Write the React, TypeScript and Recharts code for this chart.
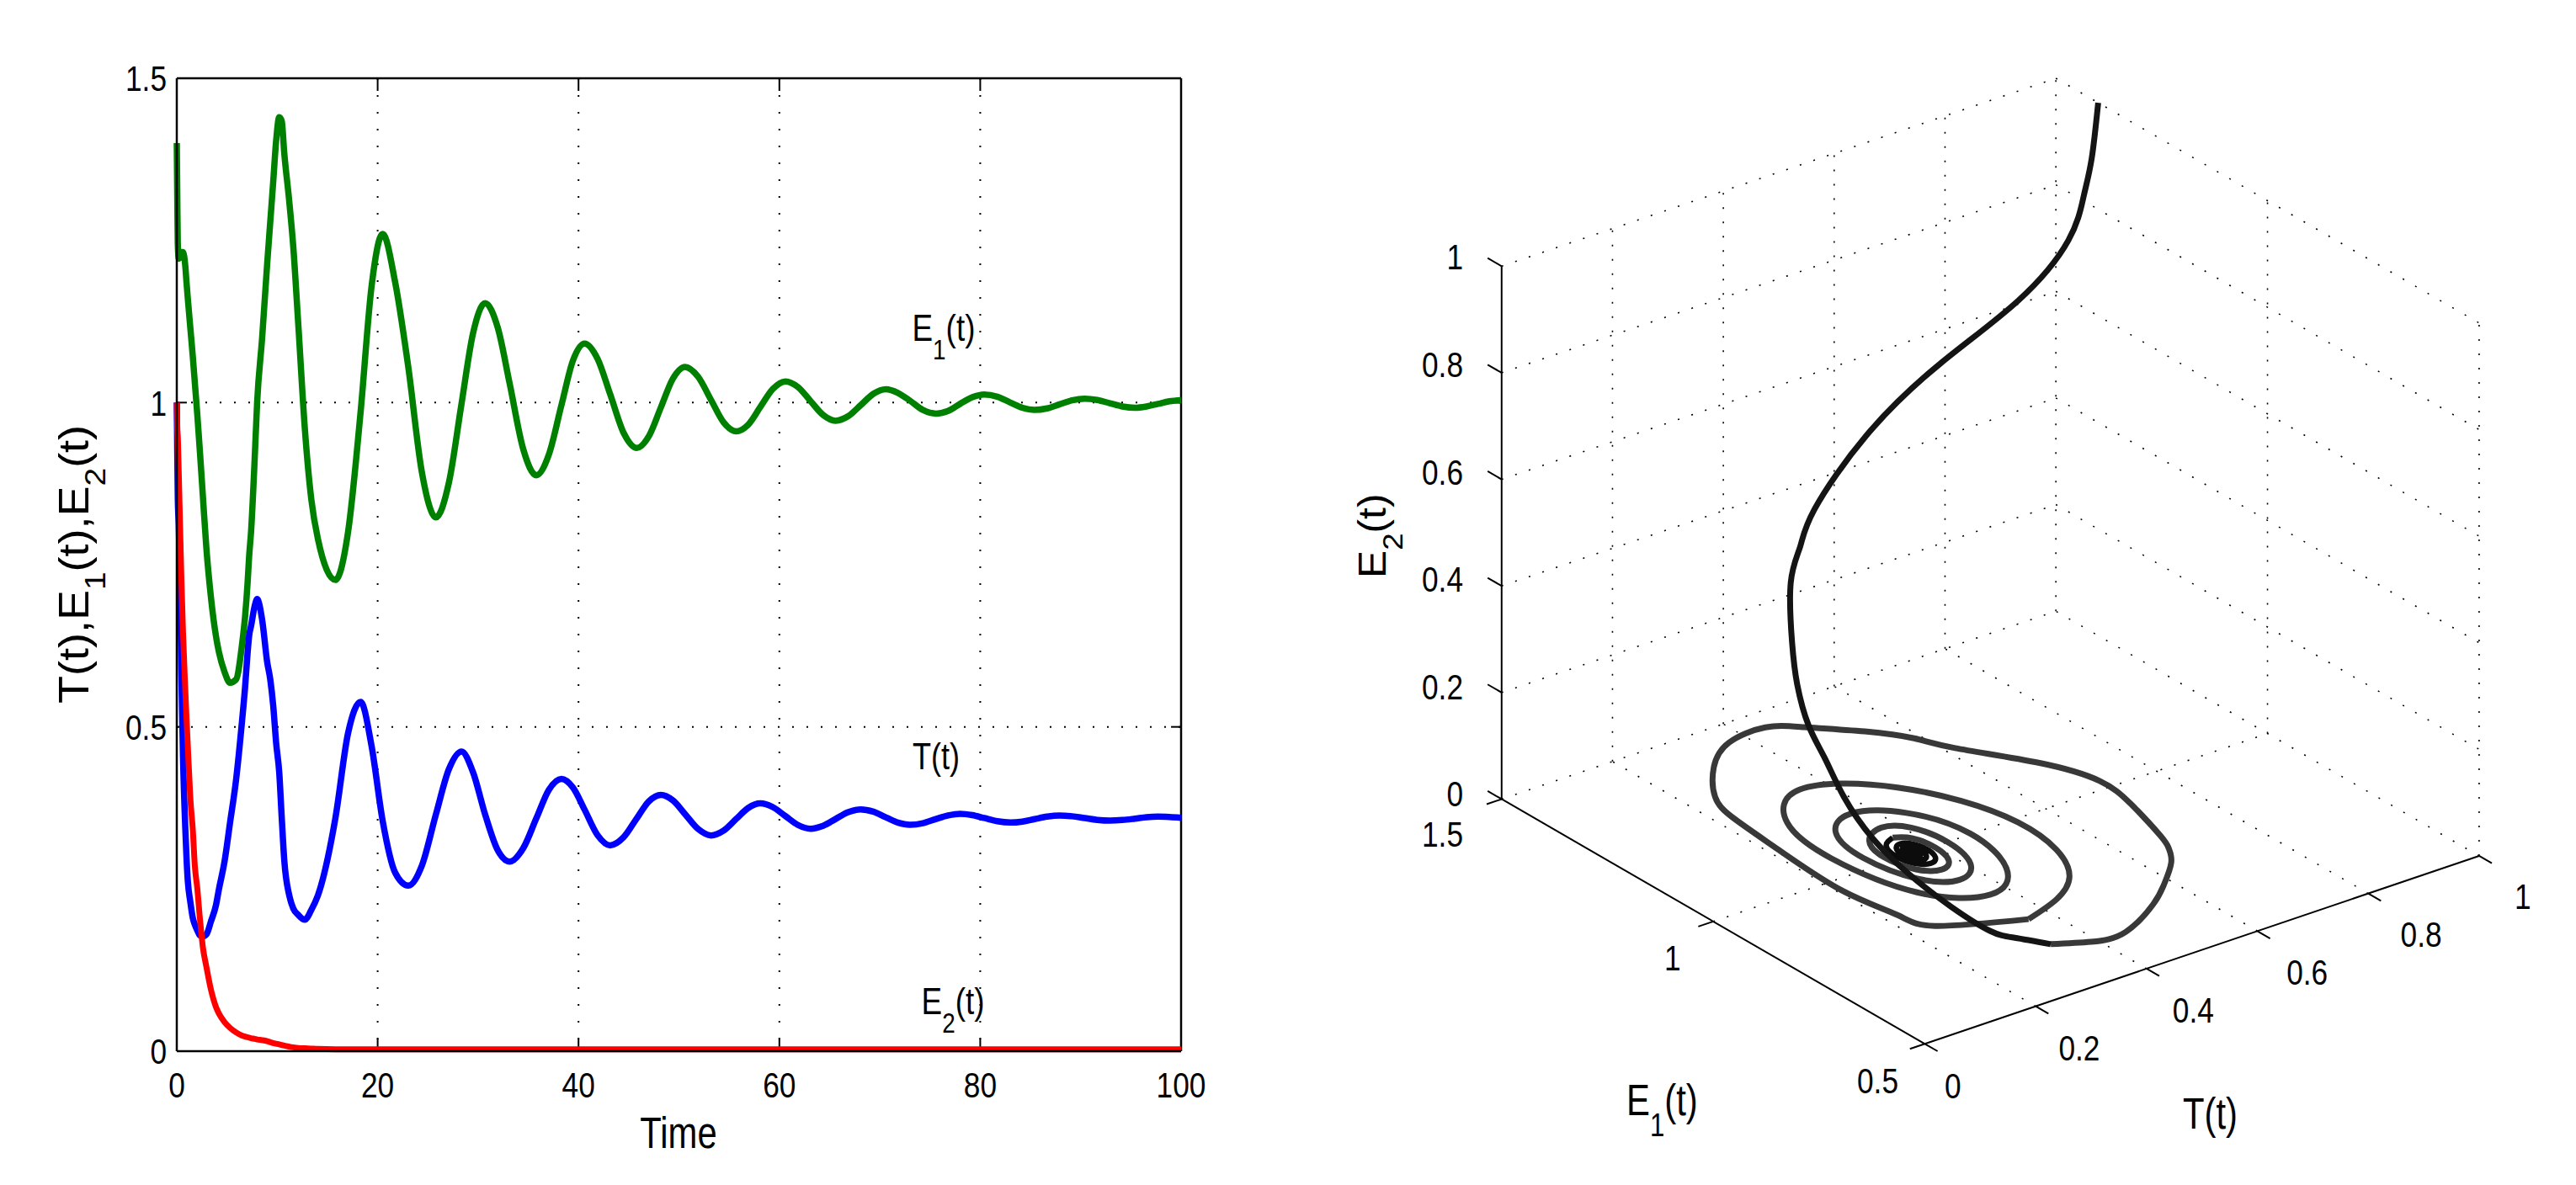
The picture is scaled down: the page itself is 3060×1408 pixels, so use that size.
import React from "react";
import { LineChart, Line, XAxis, YAxis, CartesianGrid, ReferenceLine } from "recharts";

// ---- readings from the picture ----
const time = [0,0.05,0.1,0.2,0.33,0.45,0.62,0.85,0.97,1.1,1.35,1.6,1.8,2.05,2.3,2.6,2.95,3.4,3.9,4.2,4.75,5.3,5.9,6.5,6.8,7.05,7.2,7.4,7.75,8,8.5,9,9.3,9.6,9.9,10.2,10.45,10.7,11.2,11.6,12.1,12.75,13.4,
14.05,15.8,17.05,18.3,19.4,20.5,21.75,23.05,24.4,25.8,27.1,28.35,29.5,30.7,31.95,33.15,34.5,35.8,37.05,38.3,39.45,40.6,41.9,43.15,44.5,45.8,47,48.2,49.4,50.6,51.9,53.2,54.45,55.7,56.9,58.1,59.35,60.6,61.85,63.1,64.35,65.6,66.85,68.1,69.35,70.6,71.8,73,74.3,75.6,76.8,78,79.2,80.4,81.7,83,84.2,85.4,86.65,87.9,89.15,90.4,91.65,92.9,94.15,95.4,96.55,97.7,98.85,100];
const seriesT = [1,0.924,0.8555,0.81,0.722,0.586,0.454,0.343,0.298,0.262,0.23,0.205,0.195,0.186,0.1786,0.177,0.18,0.2,0.225,0.25,0.292,0.352,0.418,0.5095,0.561,0.614,0.64,0.656,0.686,0.697,0.665,0.6,0.574,0.533,0.474,0.43,0.36,0.295,0.24,0.22,0.21,0.2026,0.218,
0.24,0.36,0.49,0.5386,0.47,0.355,0.275,0.2553,0.286,0.365,0.435,0.462,0.43,0.365,0.31,0.2924,0.313,0.359,0.403,0.4198,0.4065,0.3726,0.333,0.3173,0.33,0.359,0.385,0.395,0.3866,0.3657,0.3426,0.3326,0.34,0.358,0.375,0.382,0.3763,0.3625,0.3487,0.343,0.3474,0.358,0.3684,0.3728,0.3693,0.3605,0.3524,0.349,0.3515,0.358,0.3635,0.366,0.364,0.3595,0.3545,0.3525,0.354,0.3578,0.3616,0.3633,0.3622,0.3594,0.3566,0.3555,0.3564,0.3585,0.3607,0.3616,0.361,0.3598];
const seriesE1 = [1.4,1.316,1.245,1.222,1.225,1.232,1.232,1.21,1.185,1.16,1.115,1.07,1.03,0.98,0.925,0.855,0.775,0.7,0.64,0.615,0.585,0.568,0.573,0.6275,0.67,0.722,0.762,0.802,0.911,1,1.1,1.214,1.277,1.34,1.405,1.44,1.434,1.385,1.31,1.24,1.12,0.96,0.85,
0.79,0.7265,0.8,0.985,1.18,1.26,1.185,1.055,0.893,0.823,0.877,0.998,1.107,1.1533,1.116,1.029,0.928,0.888,0.92,0.996,1.065,1.091,1.0675,1.013,0.953,0.93,0.948,0.9925,1.037,1.055,1.04,1.004,0.9695,0.9556,0.966,0.993,1.021,1.0327,1.024,1.0024,0.981,0.972,0.979,0.996,1.0134,1.0205,1.015,1.003,0.9885,0.983,0.987,0.998,1.0081,1.0124,1.009,1,0.992,0.9887,0.991,0.9973,1.0035,1.006,1.004,0.999,0.994,0.992,0.994,0.998,1.002,1.0037];
const seriesE2 = [1,0.96,0.947,0.89,0.807,0.733,0.646,0.556,0.513,0.47,0.39,0.34,0.285,0.25,0.205,0.16,0.13,0.095,0.068,0.058,0.045,0.036,0.029,0.024,0.0225,0.0215,0.021,0.02,0.019,0.018,0.017,0.0155,0.014,0.0125,0.0115,0.0105,0.0095,0.0085,0.007,0.006,0.005,0.0045,0.004,
0.0035,0.003,0.003,0.003,0.003,0.003,0.003,0.003,0.003,0.003,
0.003,0.003,0.003,0.003,0.003,0.003,0.003,0.003,0.003,0.003,
0.003,0.003,0.003,0.003,0.003,0.003,0.003,0.003,0.003,0.003,
0.003,0.003,0.003,0.003,0.003,0.003,0.003,0.003,0.003,0.003,
0.003,0.003,0.003,0.003,0.003,0.003,0.003,0.003,0.003,0.003,
0.003,0.003,0.003,0.003,0.003,0.003,0.003,0.003,0.003,0.003,
0.003,0.003,0.003,0.003,0.003,0.003,0.003,0.003,0.003,0.003];

const timeTicks = [0,20,40,60,80,100];
const stateTicks = [0,0.5,1,1.5];
const cubeT = [0,0.2,0.4,0.6,0.8,1];
const cubeE1 = [0.5,1,1.5];
const cubeE2 = [0,0.2,0.4,0.6,0.8,1];

const FONT = "'Liberation Sans',sans-serif";
const NARROW_X = 0.82;

const rows = time.map((t,i)=>({t,T:seriesT[i],E1:seriesE1[i],E2:seriesE2[i]}));

// view of the 3-D box
const px = (T:number,E1:number)=>677*T-517*(E1-0.5);
const py = (T:number,E1:number,E2:number)=>225*T+293*(E1-0.5)+638*E2;
const P = (T:number,E1:number,E2:number)=>({x:px(T,E1),y:py(T,E1,E2)});
const pageX = (x:number)=>2283+x;
const pageY = (y:number)=>1249-y;

const path = rows.map(r=>({t:r.t,...P(r.T,r.E1,r.E2)}));
const pathParts = [
  {from:50.6,to:100,color:"#0c0c0c",w:6.5},
  {from:15.8,to:50.6,color:"#3a3a3a",w:7},
  {from:4.75,to:15.8,color:"#383838",w:7},
  {from:0,to:4.75,color:"#141414",w:7},
];

const gridSegs:any[][] = [];
cubeT.slice(1).forEach(T=>{gridSegs.push([P(T,0.5,0),P(T,1.5,0)]);gridSegs.push([P(T,1.5,0),P(T,1.5,1)]);});
cubeE1.slice(1).forEach(E=>gridSegs.push([P(0,E,0),P(1,E,0)]));
cubeE1.slice(0,2).forEach(E=>gridSegs.push([P(1,E,0),P(1,E,1)]));
cubeE2.slice(1).forEach(E=>{gridSegs.push([P(0,1.5,E),P(1,1.5,E)]);gridSegs.push([P(1,1.5,E),P(1,0.5,E)]);});

const axisSegs:any[][] = [
  [P(0,1.5,0),P(0,1.5,1)],
  [P(0,1.5,0),P(0,0.5,0)],
  [P(0,0.5,0),P(1,0.5,0)],
];
cubeE2.forEach(E=>axisSegs.push([P(0,1.5,E),P(0,1.533,E)]));
cubeE1.forEach(E=>axisSegs.push([P(0,E,0),P(-0.027,E,0)]));
cubeT.forEach(T=>axisSegs.push([P(T,0.5,0),P(T,0.47,0)]));

function NT({x,y,anchor,size=43,dy,children}:any){
  return <text transform={`translate(${x},${y}) scale(${NARROW_X},1)`} textAnchor={anchor} dy={dy} fontFamily={FONT} fontSize={size} fill="#000">{children}</text>;
}

function Sub({x,y,base,sub,size,subSize,drop,rotate,stretch=NARROW_X}:any){
  const tf = `translate(${x},${y})${rotate?` rotate(${rotate})`:""} scale(${stretch},1)`;
  return (
    <text transform={tf} fontFamily={FONT} fontSize={size} fill="#000">
      {base}
      {sub!==undefined && <tspan dy={drop} fontSize={subSize}>{sub}</tspan>}
      {sub!==undefined && <tspan dy={-drop} fontSize={size}>(t)</tspan>}
    </text>
  );
}

function RotLabel(){
  return (
    <text transform="translate(104.6,836) rotate(-90) scale(1.08,1)" fontFamily={FONT} fontSize={50} fill="#000">
      T(t),E<tspan dy={20} fontSize={36}>1</tspan><tspan dy={-20}>(t),E</tspan><tspan dy={20} fontSize={36}>2</tspan><tspan dy={-20}>(t)</tspan>
    </text>
  );
}

const XTick = (p:any)=><NT x={p.x} y={p.y} anchor="middle" dy="0.71em">{p.payload.value}</NT>;
const YTick = (p:any)=><NT x={p.x} y={p.y} anchor="end" dy="0.36em">{p.payload.value}</NT>;
const AX = "#000";

export default function App(){
  return (
    <div style={{position:"absolute",left:0,top:0,width:3060,height:1408,background:"#fff",overflow:"hidden"}}>
      <div style={{position:"absolute",left:0,top:0}}>
        <LineChart width={1500} height={1408} data={rows} margin={{left:130,right:97,top:93,bottom:99}}>
          <CartesianGrid horizontal={false} vertical strokeDasharray="2 18" stroke="#000" strokeWidth={2}/>
          <CartesianGrid horizontal vertical={false} strokeDasharray="2 15" stroke="#000" strokeWidth={2}/>
          <XAxis dataKey="t" type="number" domain={[0,100]} ticks={timeTicks} height={60} tickSize={0} tickMargin={24} tick={XTick} axisLine={{stroke:AX,strokeWidth:2.5}} interval={0}/>
          <YAxis type="number" domain={[0,1.5]} ticks={stateTicks} width={80} tickSize={0} tickMargin={12} tick={YTick} axisLine={{stroke:AX,strokeWidth:2.5}} interval={0}/>
          <ReferenceLine y={1.5} stroke={AX} strokeWidth={2.5}/>
          <ReferenceLine x={100} stroke={AX} strokeWidth={2.5}/>
          {timeTicks.slice(1,-1).flatMap(t=>[
            <ReferenceLine key={"b"+t} segment={[{x:t,y:0},{x:t,y:0.0195}]} stroke={AX} strokeWidth={2}/>,
            <ReferenceLine key={"u"+t} segment={[{x:t,y:1.5},{x:t,y:1.4805}]} stroke={AX} strokeWidth={2}/>,
          ])}
          {stateTicks.slice(1,-1).flatMap(v=>[
            <ReferenceLine key={"l"+v} segment={[{x:0,y:v},{x:1,y:v}]} stroke={AX} strokeWidth={2}/>,
            <ReferenceLine key={"r"+v} segment={[{x:100,y:v},{x:99,y:v}]} stroke={AX} strokeWidth={2}/>,
          ])}
          <Line dataKey="E1" type="monotone" stroke="#008000" strokeWidth={7.5} dot={false} isAnimationActive={false}/>
          <Line dataKey="T" type="monotone" stroke="#0000ff" strokeWidth={7.5} dot={false} isAnimationActive={false}/>
          <Line dataKey="E2" type="monotone" stroke="#ff0000" strokeWidth={7} dot={false} isAnimationActive={false}/>
        </LineChart>
      </div>
      <div style={{position:"absolute",left:1500,top:0}}>
        <LineChart width={1560} height={1408} margin={{left:266,right:100,top:93,bottom:159}}>
          <XAxis dataKey="x" type="number" domain={[-517,677]} hide/>
          <YAxis dataKey="y" type="number" domain={[0,1156]} hide/>
          {gridSegs.map((s,i)=>(
            <Line key={"g"+i} data={s} dataKey="y" type="linear" stroke="#000" strokeWidth={1.6} strokeDasharray="2 15" dot={false} isAnimationActive={false}/>
          ))}
          {axisSegs.map((s,i)=>(
            <Line key={"a"+i} data={s} dataKey="y" type="linear" stroke="#000" strokeWidth={2} dot={false} isAnimationActive={false}/>
          ))}
          {pathParts.map((p,i)=>(
            <Line key={"p"+i} data={path.filter(q=>q.t>=p.from&&q.t<=p.to)} dataKey="y" type="natural" stroke={p.color} strokeWidth={p.w} dot={false} isAnimationActive={false}/>
          ))}
        </LineChart>
      </div>
      <svg width={3060} height={1408} style={{position:"absolute",left:0,top:0,pointerEvents:"none"}}>
        <RotLabel/>
        <NT x={806} y={1364} anchor="middle" size={51}>Time</NT>
        <Sub x={1083.5} y={405} base="E" sub="1" size={45} subSize={34} drop={22}/>
        <Sub x={1084} y={914} base="T(t)" size={44}/>
        <Sub x={1094.6} y={1205} base="E" sub="2" size={45} subSize={34} drop={22}/>
        {cubeE2.map(E=>(
          <NT key={"te"+E} x={pageX(px(0,1.5))-28} y={pageY(py(0,1.5,E))-13} dy="0.36em" anchor="end">{E}</NT>
        ))}
        {cubeE1.map(E=>(
          <NT key={"tf"+E} x={pageX(px(0,E))-28} y={pageY(py(0,E,0))+35} dy="0.36em" anchor="end">{E}</NT>
        ))}
        {cubeT.map(T=>(
          <NT key={"tt"+T} x={pageX(px(T,0.5))+27} y={pageY(py(T,0.5,0))+41} dy="0.36em" anchor="start">{T}</NT>
        ))}
        <Sub x={1932} y={1324.7} base="E" sub="1" size={51} subSize={38} drop={25}/>
        <Sub x={2593} y={1341} base="T(t)" size={51}/>
        <Sub x={1646} y={687} rotate={-90} stretch={1.08} base="E" sub="2" size={46} subSize={34} drop={20}/>
      </svg>
    </div>
  );
}
